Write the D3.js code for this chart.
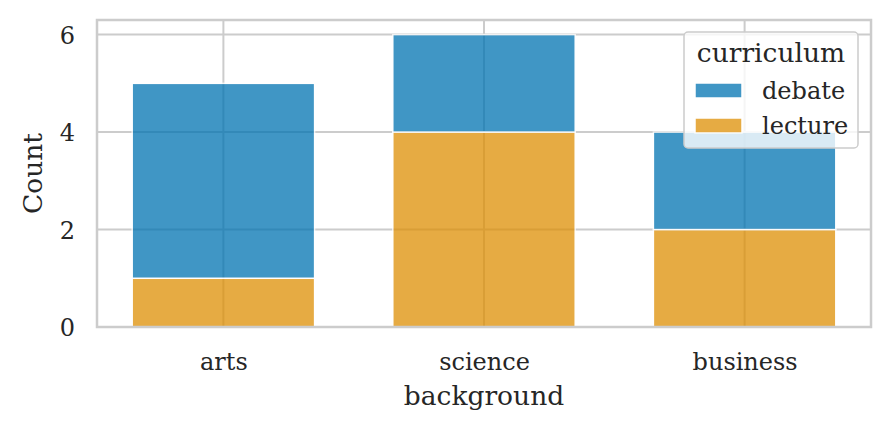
<!DOCTYPE html>
<html><head><meta charset="utf-8">
<script src="https://cdn.jsdelivr.net/npm/d3@7"></script>
<style>body{margin:0;background:#fff}svg{display:block}text{font-family:"DejaVu Serif",serif;fill:#262626}</style>
</head><body><svg id="c" width="891" height="432"></svg>
<script>
const categories = ["arts","science","business"];
const debate = [4,2,2];
const lecture = [1,4,2];
const seriesNames = ["debate","lecture"];
const colors = {debate:"#0173b2", lecture:"#de8f05"};
const yTicks = [0,2,4,6];

const W=891,H=432, m={l:97,r:871,t:20,b:327};
const svg=d3.select("#c");
const x=d3.scaleLinear().domain([-0.485,2.485]).range([m.l,m.r]);
const y=d3.scaleLinear().domain([0,6.3]).range([m.b,m.t]);
const shrink=0.7;

// grid
const g=svg.append("g");
g.selectAll(".gy").data(yTicks).join("line").attr("x1",m.l).attr("x2",m.r)
 .attr("y1",d=>y(d)).attr("y2",d=>y(d)).attr("stroke","#cccccc").attr("stroke-width",2);
g.selectAll(".gx").data(categories).join("line").attr("y1",m.t).attr("y2",m.b)
 .attr("x1",(d,i)=>x(i)).attr("x2",(d,i)=>x(i)).attr("stroke","#cccccc").attr("stroke-width",2);

// stacked bars: lecture bottom, debate on top
const rows=categories.map((c,i)=>({cat:c,i,lecture:lecture[i],debate:debate[i]}));
const stack=d3.stack().keys(["lecture","debate"])(rows);
stack.forEach(layer=>{
  svg.append("g").selectAll("rect").data(layer).join("rect")
   .attr("x",d=>x(d.data.i-shrink/2)).attr("width",d=>x(d.data.i+shrink/2)-x(d.data.i-shrink/2))
   .attr("y",d=>y(d[1])).attr("height",d=>y(d[0])-y(d[1]))
   .attr("fill",colors[layer.key]).attr("stroke","#ffffff").attr("stroke-width",1.5)
   .attr("opacity",0.75);
});

// spines
svg.append("rect").attr("x",m.l).attr("y",m.t).attr("width",m.r-m.l).attr("height",m.b-m.t)
 .attr("fill","none").attr("stroke","#cccccc").attr("stroke-width",2.5);

// axes
const xa=svg.append("g").attr("transform",`translate(0,${m.b})`)
 .call(d3.axisBottom(x).tickValues([0,1,2]).tickFormat(i=>categories[i]).tickSize(0).tickPadding(0));
xa.select(".domain").remove();
xa.selectAll("text").attr("dy",null).attr("y",43).style("font-size","24px").attr("fill","#262626");
const ya=svg.append("g").attr("transform",`translate(${m.l},0)`)
 .call(d3.axisLeft(y).tickValues(yTicks).tickFormat(d3.format("d")).tickSize(0).tickPadding(0));
ya.select(".domain").remove();
ya.selectAll("text").attr("x",-22).attr("dy","0.36em").style("font-size","24px").attr("fill","#262626");

svg.append("text").attr("x",(m.l+m.r)/2).attr("y",405).attr("text-anchor","middle").style("font-size","26.5px").text("background");
svg.append("text").attr("transform",`translate(42,${(m.t+m.b)/2}) rotate(-90)`).attr("text-anchor","middle").style("font-size","26.5px").text("Count");

// legend
const lg=svg.append("g");
lg.append("rect").attr("x",684).attr("y",32).attr("width",174).attr("height",116).attr("rx",4)
 .attr("fill","#ffffff").attr("fill-opacity",0.8).attr("stroke","#cccccc").attr("stroke-width",1.5);
lg.append("text").attr("x",771).attr("y",62).attr("text-anchor","middle").style("font-size","26.5px").text("curriculum");
seriesNames.forEach((s,k)=>{
  const yy=90+k*35;
  lg.append("rect").attr("x",695).attr("y",yy-7).attr("width",47).attr("height",15)
   .attr("fill",colors[s]).attr("opacity",0.75).attr("stroke","#fff").attr("stroke-width",1.5);
  lg.append("text").attr("x",762).attr("y",yy).attr("dy","0.36em").style("font-size","24px").text(s);
});
</script></body></html>
